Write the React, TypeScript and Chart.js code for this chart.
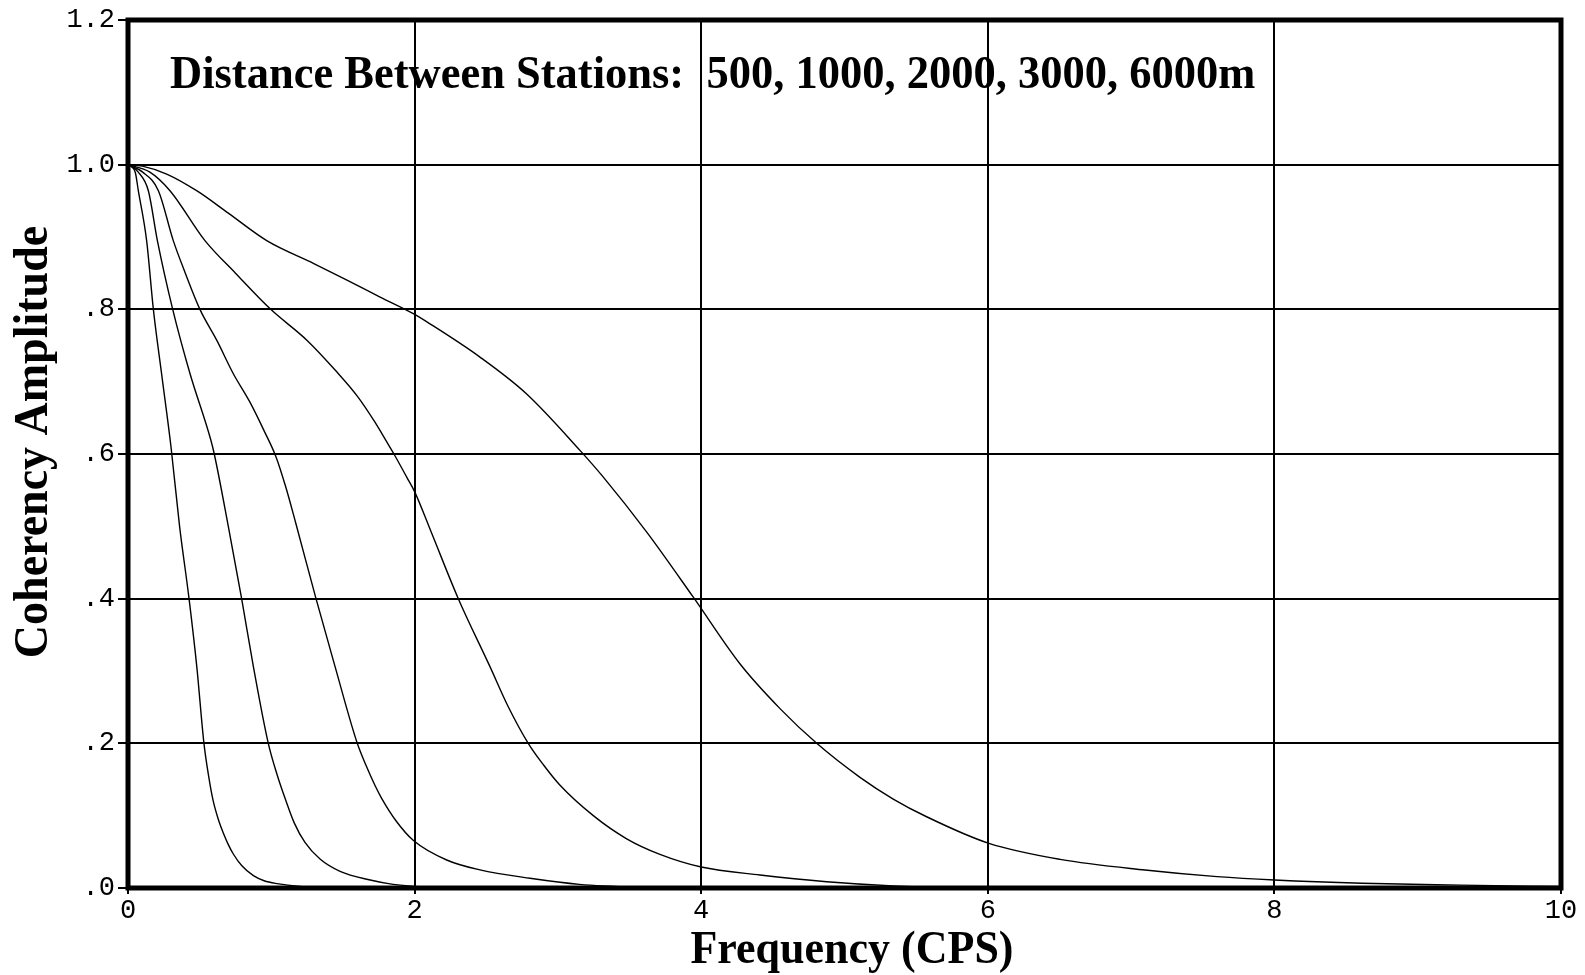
import React, { useEffect, useRef } from "react";
import { Chart, registerables } from "chart.js";

Chart.register(...registerables);

// Coherency amplitude vs. frequency for five station separations
const distances = ["500", "1000", "2000", "3000", "6000"];

const freq500 = [0, 0.1, 0.27, 0.479, 0.7, 0.968, 1.3, 1.6, 1.759, 1.991, 2.107, 2.456, 2.782, 3.154, 3.317, 3.62, 3.945, 4.27, 4.55, 4.806, 5.108, 5.34, 5.573, 6.008, 6.504, 7.097, 7.6, 8.0, 8.61, 9.3, 10];
const coh500 = [1, 0.998, 0.987, 0.964, 0.933, 0.895, 0.863, 0.833, 0.817, 0.794, 0.78, 0.734, 0.683, 0.605, 0.568, 0.492, 0.402, 0.31, 0.248, 0.2, 0.153, 0.123, 0.0985, 0.0617, 0.0396, 0.0249, 0.0157, 0.011, 0.0065, 0.004, 0.002];

const freq1000 = [0, 0.15, 0.293, 0.537, 0.75, 0.996, 1.25, 1.45, 1.6, 1.72, 1.805, 1.856, 1.945, 2.0, 2.12, 2.305, 2.526, 2.65, 2.793, 2.9, 3.015, 3.247, 3.48, 3.712, 4.0, 4.41, 4.876, 5.34, 6.0, 10];
const coh1000 = [1, 0.99, 0.964, 0.895, 0.85, 0.8, 0.757, 0.715, 0.68, 0.645, 0.617, 0.6, 0.568, 0.548, 0.49, 0.4, 0.306, 0.252, 0.2, 0.17, 0.142, 0.1, 0.068, 0.0465, 0.029, 0.018, 0.0087, 0.003, 0, 0];

const freq2000 = [0, 0.1, 0.212, 0.316, 0.4, 0.502, 0.62, 0.735, 0.85, 0.95, 1.033, 1.1, 1.17, 1.312, 1.445, 1.6, 1.66, 1.723, 1.77, 1.87, 1.99, 2.224, 2.456, 2.805, 3.15, 3.6, 4.0, 10];
const coh2000 = [1, 0.99, 0.964, 0.895, 0.85, 0.8, 0.757, 0.711, 0.672, 0.632, 0.596, 0.555, 0.505, 0.4, 0.306, 0.2, 0.17, 0.142, 0.124, 0.093, 0.066, 0.0387, 0.025, 0.0134, 0.005, 0.001, 0, 0];

const freq3000 = [0, 0.07, 0.142, 0.205, 0.312, 0.433, 0.577, 0.602, 0.7, 0.793, 0.875, 0.979, 1.04, 1.096, 1.16, 1.235, 1.34, 1.48, 1.69, 1.85, 2.1, 2.4, 10];
const coh3000 = [1, 0.99, 0.964, 0.895, 0.8, 0.711, 0.62, 0.6, 0.5, 0.4, 0.306, 0.2, 0.157, 0.124, 0.09, 0.063, 0.04, 0.023, 0.011, 0.005, 0.001, 0, 0];

const freq6000 = [0, 0.05, 0.072, 0.13, 0.177, 0.235, 0.3, 0.36, 0.426, 0.48, 0.53, 0.565, 0.595, 0.63, 0.665, 0.7, 0.735, 0.793, 0.875, 0.95, 1.04, 1.2, 1.4, 10];
const coh6000 = [1, 0.99, 0.964, 0.895, 0.8, 0.71, 0.61, 0.5, 0.4, 0.306, 0.2, 0.152, 0.12, 0.095, 0.076, 0.06, 0.047, 0.031, 0.017, 0.01, 0.006, 0.002, 0, 0];

const xTickLabels = ["0", "2", "4", "6", "8", "10"];
const yTickLabels = [".0", ".2", ".4", ".6", ".8", "1.0", "1.2"];

const titleText = "Distance Between Stations:  " + distances.join(", ") + "m";
const xTitle = "Frequency (CPS)";
const yTitle = "Coherency Amplitude";

const curves: [number[], number[]][] = [
  [freq500, coh500],
  [freq1000, coh1000],
  [freq2000, coh2000],
  [freq3000, coh3000],
  [freq6000, coh6000],
];

const frameAndText = {
  id: "frameAndText",
  afterDatasetsDraw(chart: any) {
    const { ctx, chartArea } = chart;
    ctx.save();
    // heavy frame around the plotting area
    ctx.strokeStyle = "#000";
    ctx.lineWidth = 5;
    ctx.strokeRect(chartArea.left, chartArea.top, chartArea.right - chartArea.left, chartArea.bottom - chartArea.top);

    ctx.fillStyle = "#000";
    ctx.textBaseline = "alphabetic";

    // title inside the frame
    ctx.save();
    ctx.translate(170, 88);
    ctx.scale(1, 1.06);
    ctx.font = 'bold 44.5px "Liberation Serif", "Times New Roman", serif';
    ctx.textAlign = "left";
    ctx.fillText(titleText, 0, 0);
    ctx.restore();

    // x-axis title
    ctx.save();
    ctx.translate(852, 963);
    ctx.scale(1, 1.06);
    ctx.font = 'bold 44px "Liberation Serif", "Times New Roman", serif';
    ctx.textAlign = "center";
    ctx.fillText(xTitle, 0, 0);
    ctx.restore();

    // y-axis title, reading upward
    ctx.save();
    ctx.translate(47, 442);
    ctx.rotate(-Math.PI / 2);
    ctx.scale(1, 1.04);
    ctx.font = 'bold 46px "Liberation Serif", "Times New Roman", serif';
    ctx.textAlign = "center";
    ctx.fillText(yTitle, 0, 0);
    ctx.restore();

    ctx.restore();
  },
};

const tickFont = { family: '"Liberation Mono", "DejaVu Sans Mono", monospace', size: 27 };

export default function App() {
  const canvasRef = useRef<HTMLCanvasElement | null>(null);

  useEffect(() => {
    if (!canvasRef.current) return;
    const datasets = curves.map(([fx, cy], i) => ({
      label: distances[i] + " m",
      data: fx.map((f, j) => ({ x: f, y: cy[j] })),
      borderColor: "#000",
      borderWidth: 1.4,
      pointRadius: 0,
      fill: false,
      cubicInterpolationMode: "monotone" as const,
    }));

    const chart = new Chart(canvasRef.current, {
      type: "line",
      data: { datasets },
      plugins: [frameAndText],
      options: {
        animation: false,
        responsive: false,
        devicePixelRatio: 1,
        layout: { padding: { top: 20, right: 24, bottom: 0, left: 0 } },
        plugins: {
          legend: { display: false },
          tooltip: { enabled: false },
          title: { display: false },
        },
        scales: {
          x: {
            type: "linear",
            min: 0,
            max: 10,
            afterFit: (s: any) => {
              s.height = 87;
            },
            border: { display: false },
            grid: { color: "#000", lineWidth: 2, tickLength: 6, tickColor: "#000" },
            ticks: {
              stepSize: 2,
              padding: 1,
              color: "#000",
              maxRotation: 0,
              font: tickFont,
              callback: (_v: any, i: number) => xTickLabels[i],
            },
          },
          y: {
            type: "linear",
            min: 0,
            max: 1.2,
            afterFit: (s: any) => {
              s.width = 128;
            },
            border: { display: false },
            grid: { color: "#000", lineWidth: 2, tickLength: 10, tickColor: "#000" },
            ticks: {
              stepSize: 0.2,
              padding: 3,
              color: "#000",
              font: tickFont,
              callback: (_v: any, i: number) => yTickLabels[i],
            },
          },
        },
      },
    });
    return () => chart.destroy();
  }, []);

  return (
    <div style={{ position: "absolute", left: 0, top: 0, width: 1585, height: 975, background: "#fff" }}>
      <canvas ref={canvasRef} width={1585} height={975} style={{ display: "block" }} />
    </div>
  );
}
